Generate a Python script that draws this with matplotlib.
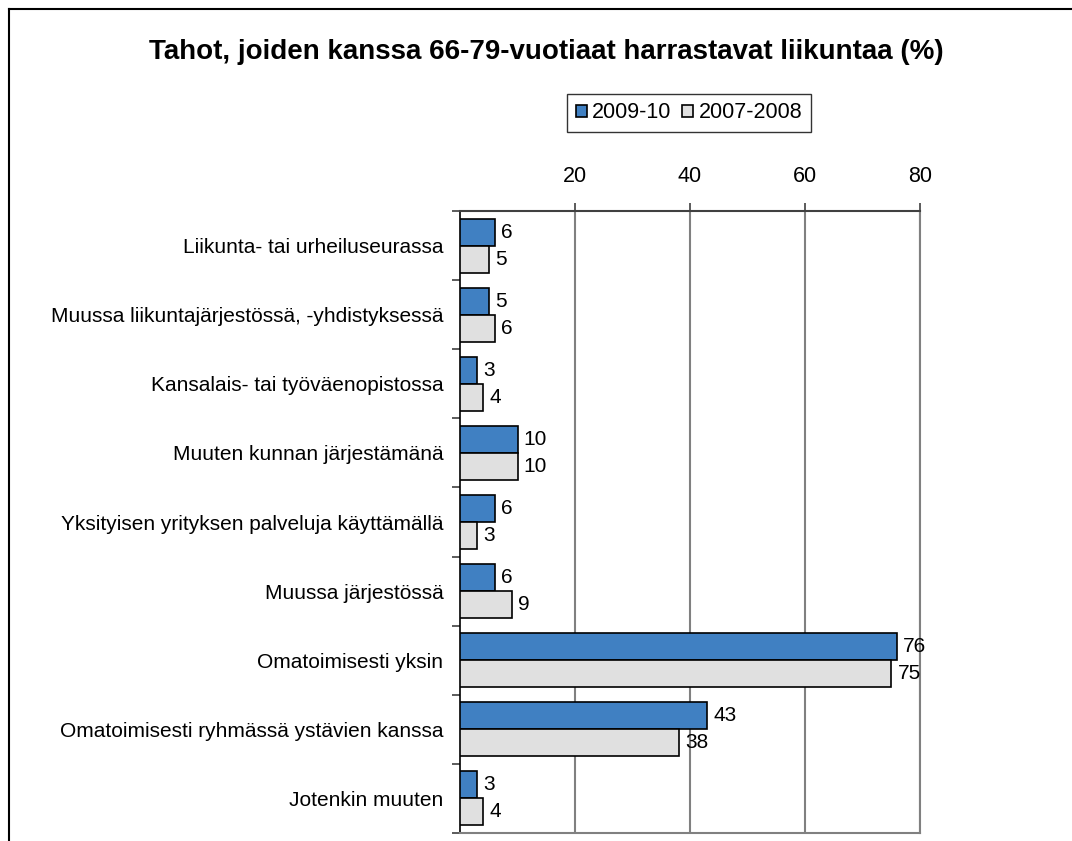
import matplotlib.pyplot as plt
import numpy as np
from matplotlib.lines import Line2D

plt.rcParams["font.family"] = ["Liberation Sans", "DejaVu Sans"]

categories = [
    "Liikunta- tai urheiluseurassa",
    "Muussa liikuntajärjestössä, -yhdistyksessä",
    "Kansalais- tai työväenopistossa",
    "Muuten kunnan järjestämänä",
    "Yksityisen yrityksen palveluja käyttämällä",
    "Muussa järjestössä",
    "Omatoimisesti yksin",
    "Omatoimisesti ryhmässä ystävien kanssa",
    "Jotenkin muuten",
]
vals_2009 = [6, 5, 3, 10, 6, 6, 76, 43, 3]
vals_2007 = [5, 6, 4, 10, 3, 9, 75, 38, 4]
series_labels = ["2009-10", "2007-2008"]
x_ticks = [20, 40, 60, 80]

BLUE = "#4080C2"
GRAY = "#E0E0E0"
GRID = "#808080"

fig = plt.figure(figsize=(10.72, 8.41), dpi=100)
ax = fig.add_axes([460 / 1072, 1 - 833 / 841, 460 / 1072, 622 / 841])

y = np.arange(len(categories))
h = 0.39
b1 = ax.barh(y - h / 2, vals_2009, height=h, color=BLUE, edgecolor="black",
             linewidth=1.2, label=series_labels[0], zorder=3)
b2 = ax.barh(y + h / 2, vals_2007, height=h, color=GRAY, edgecolor="black",
             linewidth=1.2, label=series_labels[1], zorder=3)

for bars, vals in ((b1, vals_2009), (b2, vals_2007)):
    for rect, v in zip(bars, vals):
        ax.annotate(str(v), (v, rect.get_y() + rect.get_height() / 2),
                    xytext=(4.5, 0), textcoords="offset points",
                    va="center", ha="left", fontsize=15, zorder=4)

ax.set_xlim(0, 80)
ax.set_ylim(len(categories) - 0.5, -0.5)

# x axis on top, no label at 0
ax.xaxis.tick_top()
ax.set_xticks(x_ticks)
ax.set_xticklabels([str(t) for t in x_ticks], fontsize=15.5)
ax.tick_params(axis="x", direction="out", length=5.5, width=1.2, color="#404040",
               pad=11.5)
ax.grid(axis="x", color=GRID, linewidth=1.5, zorder=0)

# category labels centred on groups, tick marks on group boundaries
ax.set_yticks(y)
ax.set_yticklabels(categories, fontsize=15)
ax.tick_params(axis="y", which="major", length=0, pad=12)
ax.set_yticks(np.arange(len(categories) + 1) - 0.5, minor=True)
ax.tick_params(axis="y", which="minor", length=5.5, width=1.2, color="#404040")

ax.spines["top"].set_color("#404040")
ax.spines["top"].set_linewidth(1.5)
ax.spines["left"].set_color("black")
ax.spines["left"].set_linewidth(1.2)
for side in ("right", "bottom"):
    ax.spines[side].set_color(GRID)
    ax.spines[side].set_linewidth(1.5)

leg = fig.legend(handles=[b1, b2], labels=series_labels, loc="center",
                 bbox_to_anchor=(689 / 1072, 1 - 113 / 841), ncol=2,
                 fontsize=15.5, frameon=True, fancybox=False, edgecolor="black",
                 handlelength=0.5, handleheight=0.5, handletextpad=0.25,
                 columnspacing=0.5, borderpad=0.4, borderaxespad=0)
leg.get_frame().set_linewidth(1.0)

fig.text(546 / 1072, 1 - 52 / 841,
         "Tahot, joiden kanssa 66-79-vuotiaat harrastavat liikuntaa (%)",
         ha="center", va="center", fontsize=20, fontweight="bold")

# outer frame lines (left and top)
fig.add_artist(Line2D([9 / 1072, 9 / 1072], [0, 1 - 9 / 841], color="black",
                      linewidth=1.5, transform=fig.transFigure))
fig.add_artist(Line2D([9 / 1072, 1], [1 - 9 / 841, 1 - 9 / 841], color="black",
                      linewidth=1.5, transform=fig.transFigure))

fig.savefig("out.png", dpi=100)
